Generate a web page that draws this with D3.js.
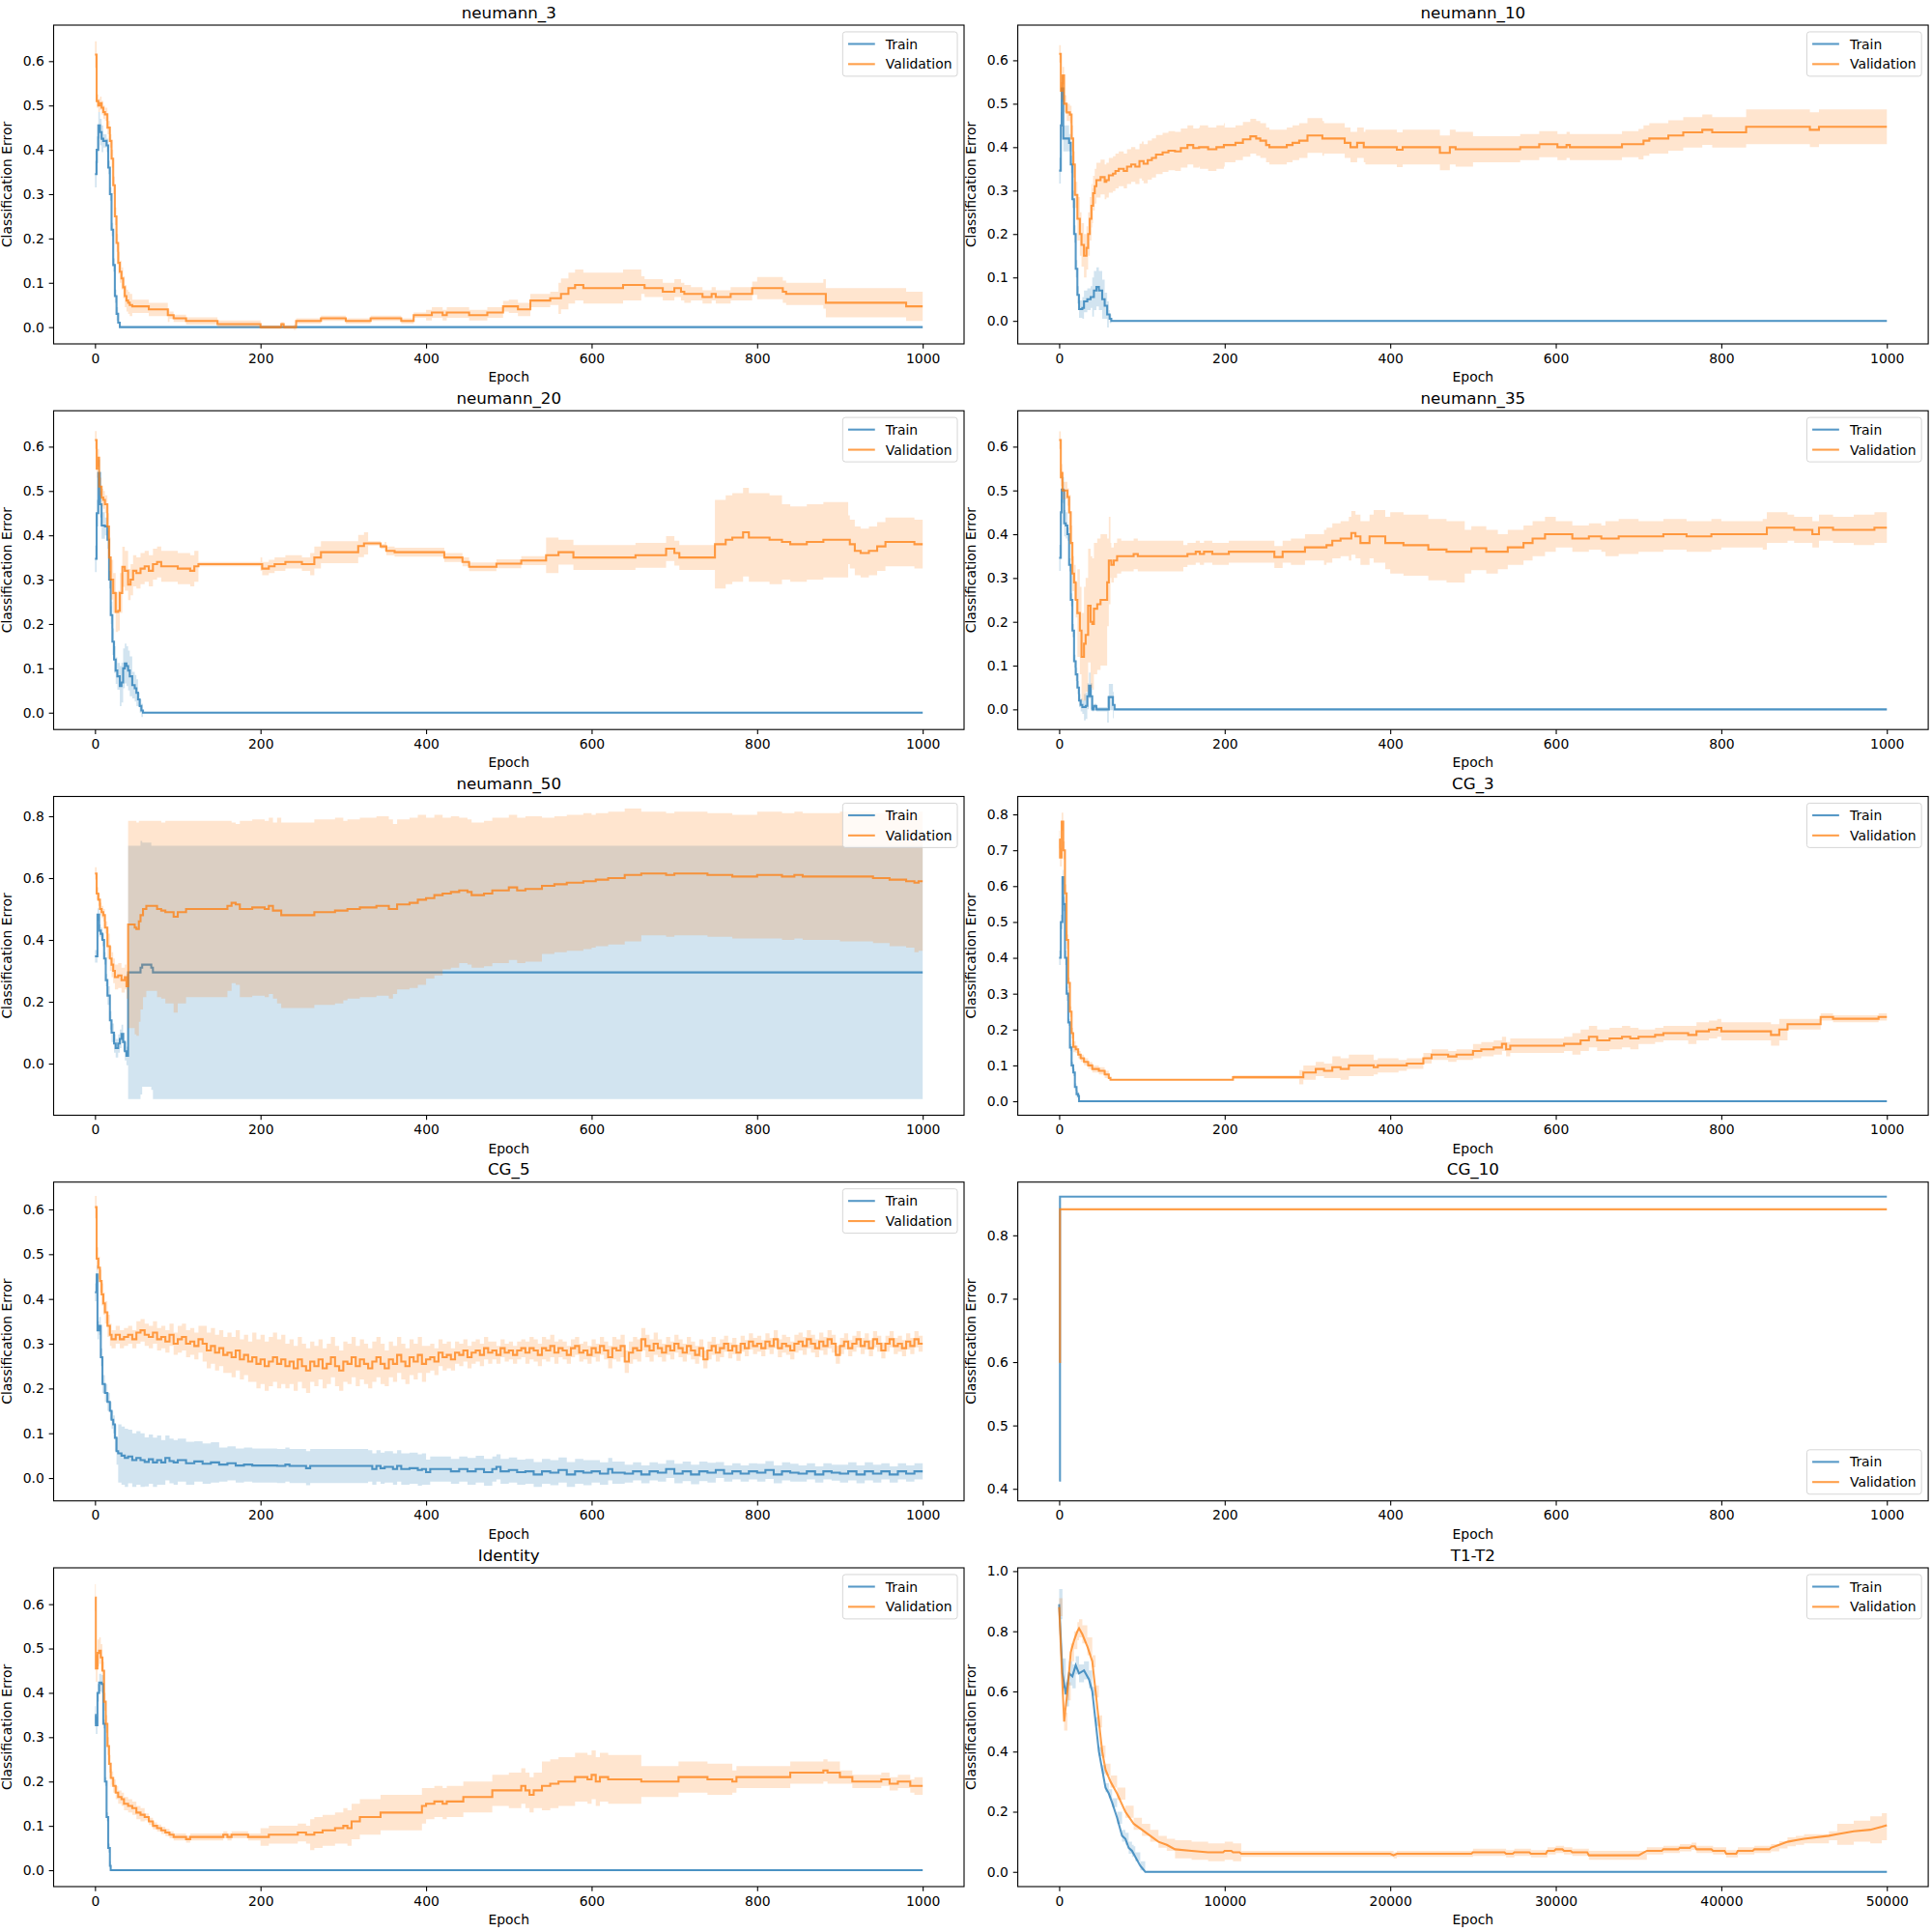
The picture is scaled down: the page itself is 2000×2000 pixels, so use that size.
<!DOCTYPE html>
<html>
<head>
<meta charset="utf-8">
<script src="https://cdn.jsdelivr.net/npm/d3@7"></script>
<style>
body { margin: 0; background: #fff; }
svg { display: block; font-family: "DejaVu Sans", sans-serif; }
</style>
</head>
<body>
<div id="chart"></div>
<script>
// ---- data: [epoch, value] change points ----
var n3Train = [[0,0.345],[2,0.40],[4,0.455],[6,0.44],[8,0.425],[10,0.42],[14,0.41],[16,0.36],[18,0.30],[20,0.22],[22,0.14],[24,0.07],[26,0.03],[28,0.01],[30,0]]
var n3TrainSd = [[0,0.03],[10,0.015],[28,0.002]]
var n3Val = [[0,0.615],[2,0.51],[4,0.50],[6,0.505],[8,0.495],[10,0.485],[12,0.48],[15,0.45],[18,0.42],[20,0.38],[22,0.32],[24,0.25],[26,0.19],[28,0.145],[30,0.125],[32,0.11],[34,0.09],[36,0.07],[38,0.06],[40,0.055],[42,0.05],[45,0.047],[65,0.04],[88,0.027],[95,0.02],[110,0.014],[148,0.007],[200,0.0],[225,0.007],[228,0.0],[243,0.014],[273,0.02],[303,0.014],[333,0.02],[370,0.014],[385,0.027],[407,0.033],[420,0.027],[425,0.033],[452,0.027],[474,0.033],[493,0.047],[511,0.04],[526,0.06],[550,0.065],[563,0.075],[572,0.088],[580,0.095],[590,0.088],[638,0.095],[664,0.088],[686,0.08],[700,0.088],[708,0.08],[712,0.075],[734,0.068],[745,0.075],[750,0.068],[768,0.075],[794,0.088],[831,0.08],[835,0.075],[883,0.055],[980,0.047]]
var n3ValSd = [[0,0.03],[2,0.015],[20,0.02],[28,0.025],[45,0.015],[90,0.008],[200,0.004],[240,0.006],[400,0.012],[500,0.015],[560,0.035],[660,0.02],[720,0.015],[800,0.025],[880,0.033]]

var n10Train = [[0,0.346],[2,0.45],[3,0.535],[5,0.42],[8,0.42],[12,0.41],[14,0.36],[16,0.28],[18,0.20],[20,0.12],[22,0.06],[24,0.027],[28,0.03],[30,0.045],[34,0.05],[38,0.055],[42,0.07],[45,0.078],[48,0.07],[52,0.05],[55,0.035],[58,0.015],[61,0.005],[63,0]]
var n10TrainSd = [[0,0.03],[12,0.02],[28,0.025],[40,0.045],[55,0.03],[60,0.01],[63,0.002]]
var n10Val = [[0,0.615],[2,0.53],[4,0.565],[6,0.50],[9,0.48],[13,0.475],[15,0.42],[17,0.36],[19,0.29],[22,0.235],[25,0.20],[27,0.175],[30,0.15],[33,0.168],[35,0.20],[37,0.235],[39,0.265],[41,0.294],[43,0.31],[45,0.324],[50,0.331],[55,0.32],[57,0.324],[60,0.335],[65,0.339],[68,0.345],[72,0.35],[78,0.345],[82,0.355],[87,0.36],[92,0.355],[97,0.368],[102,0.362],[107,0.37],[112,0.375],[117,0.383],[125,0.388],[132,0.392],[140,0.39],[147,0.398],[155,0.405],[162,0.398],[169,0.40],[180,0.395],[190,0.40],[199,0.405],[213,0.41],[222,0.418],[231,0.425],[238,0.42],[243,0.415],[250,0.405],[254,0.40],[275,0.405],[282,0.41],[290,0.415],[300,0.427],[318,0.42],[337,0.42],[345,0.41],[352,0.40],[360,0.41],[368,0.40],[408,0.394],[415,0.40],[460,0.387],[472,0.40],[479,0.395],[557,0.40],[580,0.407],[602,0.40],[613,0.405],[617,0.40],[680,0.407],[706,0.415],[713,0.42],[736,0.427],[754,0.434],[777,0.44],[789,0.434],[830,0.447],[907,0.44],[918,0.447]]
var n10ValSd = [[0,0.02],[15,0.03],[22,0.05],[40,0.04],[100,0.045],[170,0.05],[200,0.04],[320,0.035],[370,0.04],[500,0.03],[700,0.035],[830,0.04]]

var n20Train = [[0,0.347],[2,0.45],[4,0.541],[6,0.47],[8,0.422],[12,0.42],[15,0.39],[17,0.30],[19,0.22],[21,0.16],[23,0.12],[25,0.095],[27,0.082],[30,0.06],[32,0.068],[34,0.10],[36,0.111],[38,0.105],[40,0.095],[42,0.082],[45,0.062],[48,0.055],[50,0.045],[52,0.03],[54,0.015],[56,0.005],[58,0]]
var n20TrainSd = [[0,0.03],[12,0.02],[20,0.03],[30,0.045],[45,0.03],[52,0.015],[58,0.002]]
var n20Val = [[0,0.615],[2,0.55],[3,0.575],[5,0.51],[8,0.485],[10,0.48],[12,0.47],[15,0.42],[17,0.35],[19,0.30],[22,0.27],[25,0.227],[28,0.23],[30,0.27],[33,0.329],[36,0.32],[40,0.289],[43,0.30],[46,0.32],[50,0.315],[55,0.325],[60,0.33],[65,0.32],[70,0.335],[75,0.34],[80,0.33],[100,0.325],[115,0.32],[120,0.33],[125,0.335],[202,0.325],[210,0.33],[217,0.335],[230,0.34],[250,0.335],[265,0.35],[273,0.362],[318,0.376],[325,0.382],[345,0.375],[352,0.365],[362,0.362],[422,0.35],[444,0.34],[452,0.329],[485,0.336],[515,0.343],[545,0.355],[560,0.362],[578,0.35],[653,0.355],[690,0.37],[700,0.36],[706,0.35],[743,0.35],[749,0.38],[762,0.39],[770,0.395],[783,0.407],[790,0.395],[815,0.39],[830,0.385],[840,0.38],[860,0.385],[880,0.39],[905,0.39],[912,0.38],[918,0.365],[925,0.36],[935,0.365],[945,0.375],[955,0.385],[990,0.38]]
var n20ValSd = [[0,0.02],[15,0.03],[18,0.045],[40,0.035],[125,0.005],[200,0.015],[260,0.025],[330,0.005],[350,0.01],[545,0.04],[560,0.028],[749,0.1],[830,0.085],[910,0.055]]

var n35Train = [[0,0.346],[2,0.45],[3,0.502],[5,0.50],[6,0.425],[8,0.42],[10,0.40],[12,0.33],[14,0.25],[16,0.18],[18,0.11],[20,0.08],[22,0.05],[24,0.02],[26,0.01],[28,0.005],[32,0.008],[34,0.03],[36,0.054],[38,0.03],[40,0.0],[42,0.008],[45,0],[58,0.0],[60,0.028],[63,0.028],[65,0.01],[67,0]]
var n35TrainSd = [[0,0.03],[10,0.015],[30,0.03],[40,0.005],[58,0.03],[66,0.002]]
var n35Val = [[0,0.615],[2,0.53],[3,0.54],[4,0.50],[8,0.50],[10,0.485],[12,0.45],[14,0.38],[16,0.31],[18,0.29],[20,0.25],[22,0.22],[25,0.18],[27,0.12],[30,0.15],[32,0.17],[35,0.237],[38,0.20],[40,0.195],[42,0.23],[46,0.24],[50,0.25],[55,0.25],[58,0.29],[60,0.34],[63,0.33],[66,0.34],[70,0.35],[90,0.355],[95,0.35],[155,0.355],[165,0.36],[170,0.355],[175,0.36],[185,0.355],[205,0.36],[260,0.348],[270,0.36],[297,0.37],[323,0.375],[330,0.385],[340,0.39],[353,0.403],[358,0.395],[364,0.38],[375,0.395],[394,0.38],[416,0.375],[446,0.365],[468,0.36],[498,0.368],[516,0.36],[542,0.37],[561,0.38],[572,0.39],[587,0.40],[620,0.39],[640,0.395],[655,0.39],[676,0.395],[730,0.40],[758,0.395],[788,0.40],[855,0.415],[888,0.41],[910,0.40],[918,0.415],[935,0.41],[985,0.415]]
var n35ValSd = [[0,0.02],[12,0.04],[22,0.1],[30,0.13],[38,0.15],[58,0.1],[62,0.04],[75,0.035],[150,0.025],[280,0.03],[320,0.04],[350,0.05],[380,0.06],[400,0.07],[490,0.05],[530,0.04],[600,0.03],[660,0.04],[700,0.035],[800,0.03],[850,0.035],[880,0.03],[960,0.035]]

var n50Train = [[0,0.347],[3,0.482],[5,0.43],[7,0.42],[9,0.40],[11,0.34],[13,0.27],[15,0.22],[18,0.14],[20,0.10],[23,0.065],[25,0.05],[28,0.065],[30,0.08],[32,0.096],[34,0.07],[36,0.04],[38,0.025],[40,0.295],[55,0.31],[57,0.32],[68,0.31],[70,0.295]]
var n50TrainSd = [[0,0.02],[15,0.03],[40,0.41],[57,0.395],[70,0.41]]
var n50Val = [[0,0.615],[2,0.55],[4,0.53],[6,0.50],[8,0.49],[10,0.48],[12,0.44],[15,0.38],[18,0.34],[20,0.32],[22,0.30],[24,0.28],[28,0.285],[32,0.27],[36,0.28],[38,0.25],[40,0.45],[45,0.45],[48,0.44],[50,0.435],[53,0.46],[55,0.48],[58,0.50],[62,0.51],[70,0.51],[75,0.50],[80,0.495],[85,0.49],[95,0.475],[100,0.49],[110,0.50],[160,0.51],[165,0.52],[170,0.515],[175,0.50],[190,0.505],[205,0.50],[210,0.51],[215,0.495],[225,0.48],[265,0.49],[290,0.495],[305,0.50],[320,0.505],[340,0.51],[355,0.50],[365,0.515],[380,0.52],[390,0.53],[400,0.535],[410,0.545],[420,0.55],[430,0.555],[440,0.56],[450,0.555],[455,0.545],[470,0.55],[480,0.56],[500,0.57],[510,0.56],[520,0.565],[540,0.575],[555,0.58],[570,0.585],[590,0.59],[605,0.595],[620,0.60],[640,0.61],[660,0.615],[690,0.61],[700,0.615],[740,0.61],[770,0.605],[800,0.61],[830,0.605],[845,0.61],[855,0.605],[940,0.60],[960,0.595],[980,0.59],[990,0.585],[995,0.59]]
var n50ValSd = [[0,0.02],[15,0.04],[40,0.335],[48,0.345],[53,0.325],[55,0.305],[58,0.285],[62,0.275],[75,0.285],[85,0.295],[95,0.31],[100,0.295],[110,0.285],[160,0.275],[165,0.26],[175,0.285],[220,0.3],[300,0.29],[360,0.275],[400,0.26],[420,0.245],[440,0.235],[500,0.235],[540,0.22],[600,0.215],[660,0.2],[800,0.205],[900,0.21],[960,0.215],[990,0.225]]

var cg3Train = [[0,0.40],[2,0.50],[4,0.625],[5,0.55],[7,0.40],[9,0.30],[11,0.22],[13,0.15],[15,0.10],[17,0.08],[19,0.04],[21,0.02],[23,0.015],[24,0]]
var cg3TrainSd = [[0,0.02],[10,0.01],[24,0.002]]
var cg3Val = [[0,0.73],[1,0.68],[3,0.78],[5,0.70],[7,0.58],[9,0.45],[11,0.33],[13,0.25],[15,0.19],[17,0.152],[20,0.145],[23,0.13],[26,0.12],[30,0.11],[35,0.10],[40,0.09],[48,0.085],[55,0.075],[60,0.065],[62,0.06],[210,0.067],[290,0.067],[295,0.08],[310,0.09],[320,0.085],[330,0.095],[340,0.09],[350,0.10],[380,0.095],[385,0.10],[420,0.105],[440,0.12],[450,0.13],[470,0.125],[480,0.13],[500,0.14],[510,0.145],[525,0.15],[535,0.16],[540,0.145],[545,0.155],[610,0.16],[630,0.17],[640,0.18],[650,0.17],[665,0.175],[680,0.18],[690,0.175],[700,0.18],[720,0.185],[730,0.19],[760,0.185],[770,0.195],[785,0.20],[795,0.205],[800,0.195],[860,0.185],[870,0.20],[880,0.215],[890,0.215],[920,0.235],[935,0.23],[990,0.235]]
var cg3ValSd = [[0,0.025],[10,0.015],[20,0.01],[60,0.002],[210,0.005],[290,0.02],[330,0.03],[380,0.02],[410,0.015],[500,0.02],[620,0.03],[700,0.02],[760,0.025],[860,0.03],[880,0.015],[920,0.01]]

var cg5Train = [[0,0.415],[2,0.455],[3,0.33],[5,0.34],[7,0.27],[9,0.21],[12,0.19],[15,0.17],[18,0.15],[20,0.13],[22,0.12],[24,0.09],[26,0.06],[28,0.055],[32,0.05],[36,0.045],[40,0.048],[45,0.04],[50,0.045],[55,0.04],[60,0.036],[65,0.042],[70,0.035],[75,0.04],[80,0.035],[85,0.045],[90,0.038],[95,0.035],[100,0.04],[110,0.033],[120,0.037],[130,0.032],[140,0.035],[150,0.03],[160,0.033],[170,0.028],[180,0.03],[190,0.028],[220,0.027],[230,0.03],[235,0.027],[255,0.022],[260,0.027],[335,0.02],[340,0.027],[345,0.022],[350,0.025],[360,0.02],[365,0.027],[370,0.02],[380,0.022],[390,0.018],[395,0.02],[400,0.013],[405,0.02],[430,0.015],[440,0.02],[450,0.015],[460,0.02],[470,0.013],[480,0.02],[485,0.025],[490,0.015],[500,0.018],[510,0.013],[520,0.015],[530,0.008],[540,0.015],[550,0.012],[560,0.018],[570,0.008],[580,0.015],[590,0.012],[600,0.015],[610,0.01],[620,0.02],[625,0.012],[640,0.01],[650,0.015],[660,0.008],[670,0.015],[680,0.012],[690,0.02],[700,0.01],[710,0.015],[720,0.008],[730,0.015],[740,0.012],[750,0.018],[760,0.01],[770,0.015],[780,0.01],[790,0.015],[800,0.012],[810,0.018],[820,0.008],[830,0.015],[840,0.012],[850,0.01],[860,0.015],[870,0.008],[880,0.015],[890,0.012],[900,0.01],[910,0.015],[920,0.008],[930,0.015],[940,0.01],[950,0.015],[960,0.008],[970,0.015],[980,0.01],[990,0.015]]
var cg5TrainSd = [[0,0.02],[24,0.03],[28,0.065],[40,0.06],[60,0.055],[80,0.05],[100,0.048],[120,0.045],[150,0.038],[330,0.035],[400,0.028],[450,0.03],[480,0.028],[600,0.025],[640,0.02],[700,0.022],[750,0.018],[800,0.02],[850,0.018],[900,0.02],[950,0.018]]
var cg5Val = [[0,0.605],[2,0.49],[4,0.47],[6,0.44],[8,0.41],[10,0.39],[12,0.37],[15,0.34],[18,0.32],
  [20,0.31],[25,0.32],[30,0.31],[35,0.315],[40,0.32],[45,0.31],[50,0.325],[55,0.33],[60,0.32],[65,0.315],[70,0.325],[75,0.31],[80,0.315],[85,0.305],[90,0.32],[95,0.30],
  [100,0.31],[105,0.315],[110,0.30],[115,0.305],[120,0.295],[125,0.31],[130,0.30],[135,0.285],[140,0.295],[145,0.28],[150,0.29],[155,0.275],[160,0.28],[165,0.27],[170,0.285],[175,0.265],[180,0.275],[185,0.26],[190,0.27],[195,0.255],
  [200,0.265],[205,0.25],[210,0.26],[215,0.27],[220,0.255],[225,0.265],[230,0.25],[235,0.26],[240,0.245],[245,0.265],[250,0.25],[255,0.24],[260,0.26],[265,0.25],[270,0.265],[275,0.245],[280,0.255],[285,0.27],[290,0.25],[295,0.24],
  [300,0.26],[305,0.255],[310,0.27],[315,0.25],[320,0.265],[325,0.255],[330,0.245],[335,0.26],[340,0.27],[345,0.255],[350,0.245],[355,0.265],[360,0.255],[365,0.275],[370,0.26],[375,0.25],[380,0.27],[385,0.26],[390,0.275],[395,0.255],
  [400,0.265],[405,0.27],[410,0.26],[415,0.28],[420,0.27],[425,0.275],[430,0.265],[435,0.28],[440,0.275],[445,0.285],[450,0.27],[455,0.28],[460,0.285],[465,0.275],[470,0.29],[475,0.28],[480,0.285],[485,0.275],[490,0.29],[495,0.28],
  [500,0.285],[505,0.275],[510,0.285],[515,0.29],[520,0.28],[525,0.29],[530,0.285],[535,0.275],[540,0.29],[545,0.285],[550,0.295],[555,0.28],[560,0.29],[565,0.285],[570,0.275],[575,0.29],[580,0.295],[585,0.28],[590,0.285],[595,0.275],
  [600,0.29],[605,0.28],[610,0.295],[615,0.285],[620,0.27],[625,0.29],[630,0.285],[635,0.295],[640,0.26],[645,0.28],[650,0.29],[655,0.285],[660,0.31],[665,0.295],[670,0.285],[675,0.30],[680,0.29],[685,0.28],[690,0.295],[695,0.285],
  [700,0.30],[705,0.29],[710,0.28],[715,0.295],[720,0.285],[725,0.275],[730,0.29],[735,0.265],[740,0.285],[745,0.295],[750,0.28],[755,0.29],[760,0.30],[765,0.285],[770,0.295],[775,0.28],[780,0.30],[785,0.29],[790,0.305],[795,0.295],
  [800,0.30],[805,0.29],[810,0.305],[815,0.295],[820,0.31],[825,0.29],[830,0.30],[835,0.295],[840,0.285],[845,0.30],[850,0.305],[855,0.295],[860,0.31],[865,0.30],[870,0.29],[875,0.305],[880,0.295],[885,0.31],[890,0.30],[895,0.275],
  [900,0.295],[905,0.305],[910,0.29],[915,0.30],[920,0.31],[925,0.295],[930,0.305],[935,0.29],[940,0.31],[945,0.30],[950,0.285],[955,0.30],[960,0.31],[965,0.295],[970,0.30],[975,0.29],[980,0.305],[985,0.295],[990,0.31],[995,0.30]]
var cg5ValSd = [[0,0.025],[20,0.02],[50,0.025],[100,0.03],[130,0.04],[160,0.045],[190,0.055],[230,0.05],[260,0.045],[300,0.045],[350,0.04],[400,0.03],[430,0.025],[480,0.02],[520,0.025],[560,0.02],[620,0.025],[680,0.02],[760,0.018],[820,0.02],[900,0.018]]

var cg10Train = [[0,0.413],[1,0.861]]
var cg10TrainSd = [[0,0]]
var cg10Val = [[0,0.60],[1,0.841]]
var cg10ValSd = [[0,0]]

var idTrain = [[0,0.35],[1,0.327],[3,0.40],[5,0.423],[8,0.42],[10,0.33],[12,0.20],[14,0.12],[16,0.05],[18,0.01],[19,0]]
var idTrainSd = [[0,0.02],[10,0.01],[19,0.002]]
var idVal = [[0,0.615],[1,0.455],[3,0.49],[5,0.495],[7,0.48],[9,0.45],[11,0.38],[13,0.33],[15,0.28],[17,0.24],[19,0.208],[22,0.19],[25,0.175],[28,0.165],[32,0.16],[35,0.15],[40,0.145],[45,0.14],[50,0.13],[55,0.125],[60,0.12],[65,0.11],[70,0.10],[75,0.095],[80,0.09],[85,0.085],[90,0.08],[95,0.075],[110,0.07],[115,0.075],[155,0.08],[160,0.075],[165,0.08],[185,0.075],[210,0.08],[245,0.085],[255,0.08],[265,0.085],[275,0.09],[290,0.095],[300,0.10],[305,0.095],[310,0.11],[320,0.12],[345,0.13],[395,0.145],[400,0.15],[410,0.155],[420,0.15],[425,0.155],[445,0.165],[480,0.18],[515,0.19],[520,0.18],[525,0.17],[530,0.18],[540,0.19],[550,0.195],[560,0.20],[580,0.21],[595,0.205],[600,0.215],[605,0.20],[610,0.21],[620,0.205],[660,0.20],[705,0.21],[740,0.205],[770,0.20],[775,0.21],[840,0.22],[880,0.225],[885,0.22],[900,0.21],[915,0.20],[950,0.205],[960,0.195],[970,0.20],[985,0.19]]
var idValSd = [[0,0.03],[10,0.02],[20,0.015],[60,0.008],[200,0.02],[260,0.035],[300,0.04],[400,0.035],[500,0.04],[540,0.055],[660,0.035],[770,0.025],[900,0.015],[990,0.02]]

var t12Train = [[0,0.89],[200,0.66],[400,0.59],[600,0.66],[800,0.65],[1000,0.687],[1200,0.66],[1500,0.67],[1800,0.64],[2000,0.60],[2200,0.50],[2400,0.40],[2600,0.34],[2800,0.28],[3000,0.26],[3200,0.23],[3500,0.18],[3800,0.12],[4000,0.11],[4200,0.08],[4400,0.07],[4600,0.05],[4900,0.02],[5200,0],[50000,0]]
var t12TrainSd = [[0,0.05],[400,0.04],[1000,0.03],[2000,0.015],[3500,0.02],[4500,0.015],[5200,0.003]]
var t12Val = [[0,0.88],[200,0.62],[300,0.50],[500,0.60],[700,0.73],[900,0.77],[1100,0.80],[1200,0.81],[1400,0.79],[1700,0.75],[2000,0.70],[2200,0.60],[2400,0.50],[2600,0.40],[2800,0.34],[3100,0.30],[3500,0.26],[4000,0.20],[4500,0.16],[5000,0.14],[5500,0.12],[6000,0.10],[6500,0.09],[7000,0.075],[8000,0.07],[9000,0.065],[9900,0.065],[10000,0.07],[10400,0.07],[10500,0.065],[10900,0.065],[11000,0.06],[20000,0.06],[20200,0.055],[20400,0.06],[24900,0.06],[25000,0.065],[26900,0.065],[27000,0.06],[27400,0.06],[27500,0.065],[28400,0.065],[28500,0.06],[29400,0.06],[29500,0.07],[29900,0.07],[30000,0.075],[30400,0.075],[30500,0.07],[30900,0.07],[31000,0.065],[31900,0.065],[32000,0.055],[35000,0.055],[35500,0.07],[36400,0.07],[36500,0.075],[37400,0.075],[37500,0.08],[38100,0.08],[38200,0.085],[38400,0.085],[38500,0.075],[39400,0.075],[39500,0.07],[40200,0.07],[40300,0.06],[40900,0.06],[41000,0.07],[41900,0.07],[42000,0.075],[42900,0.075],[43000,0.08],[43500,0.09],[44000,0.10],[44500,0.105],[45000,0.11],[46500,0.12],[47000,0.125],[48000,0.135],[49000,0.14],[49700,0.15],[50000,0.155]]
var t12ValSd = [[0,0.03],[2000,0.02],[7000,0.03],[11000,0.01],[25000,0.012],[32000,0.015],[35500,0.012],[44000,0.015],[47000,0.035],[49000,0.045]]

// ---- per panel tables ----
var titles = ['neumann_3','neumann_10','neumann_20','neumann_35','neumann_50','CG_3','CG_5','CG_10','Identity','T1-T2']
var trainMeans = [n3Train,n10Train,n20Train,n35Train,n50Train,cg3Train,cg5Train,cg10Train,idTrain,t12Train]
var trainSds = [n3TrainSd,n10TrainSd,n20TrainSd,n35TrainSd,n50TrainSd,cg3TrainSd,cg5TrainSd,cg10TrainSd,idTrainSd,t12TrainSd]
var valMeans = [n3Val,n10Val,n20Val,n35Val,n50Val,cg3Val,cg5Val,cg10Val,idVal,t12Val]
var valSds = [n3ValSd,n10ValSd,n20ValSd,n35ValSd,n50ValSd,cg3ValSd,cg5ValSd,cg10ValSd,idValSd,t12ValSd]
var epochMax = [1000,1000,1000,1000,1000,1000,1000,1000,1000,50000]
var curveKind = ['step','step','step','step','step','step','step','step','step','linear']
var xTicksShort = [0,200,400,600,800,1000]
var xTicksLong = [0,10000,20000,30000,40000,50000]
var yLimits = [[-0.0378,0.6813],[-0.053,0.681],[-0.038,0.681],[-0.046,0.682],[-0.167,0.864],
               [-0.039,0.850],[-0.051,0.661],[0.381,0.884],[-0.037,0.682],[-0.049,1.011]]
var yTicksA = [0,0.1,0.2,0.3,0.4,0.5,0.6]
var yTicks = [yTicksA,yTicksA,yTicksA,yTicksA,[0,0.2,0.4,0.6,0.8],
              [0,0.1,0.2,0.3,0.4,0.5,0.6,0.7,0.8],yTicksA,[0.4,0.5,0.6,0.7,0.8],yTicksA,[0,0.2,0.4,0.6,0.8,1.0]]
var legendLoc = ['upper','upper','upper','upper','upper','upper','upper','lower','upper','upper']
var seriesNames = ['Train','Validation']

var colors = { train: '#1f77b4', val: '#ff7f0e' }

// ---- layout ----
var axLeft = [55.5, 1053.6]
var axTop = [26, 425.2, 824.5, 1223.7, 1623]
var axW = 942.5, axH = 330
var fs = 13.9

var svg = d3.select('#chart').append('svg')
  .attr('width', 2000).attr('height', 2000)
svg.append('rect').attr('width', 2000).attr('height', 2000).attr('fill', '#fff')

function stepAt(arr, x) {
  var v = arr[0][1]
  for (var i = 0; i < arr.length; i++) {
    if (arr[i][0] <= x) v = arr[i][1]
    else break
  }
  return v
}

function drawSeries(g, x, y, mean, sd, xmax, color, kind) {
  var curve = kind === 'linear' ? d3.curveLinear : d3.curveStepAfter
  var pts = mean.slice()
  if (pts[pts.length-1][0] < xmax) pts.push([xmax, pts[pts.length-1][1]])
  var xs = {}
  pts.forEach(d => { xs[d[0]] = 1 })
  sd.forEach(d => { if (d[0] <= xmax) xs[d[0]] = 1 })
  var band = Object.keys(xs).map(Number).sort((a,b) => a-b).map(e => {
    var m = stepAt(pts, e), s = stepAt(sd, e)
    return [e, m - s, m + s]
  })
  g.append('path')
    .attr('d', d3.line().curve(curve).x(d => x(d[0])).y(d => y(d[1]))(pts))
    .attr('fill', 'none')
    .attr('stroke', color)
    .attr('stroke-opacity', 0.75)
    .attr('stroke-width', 2.08)
  g.append('path')
    .attr('d', d3.area().curve(d3.curveStepAfter).x(d => x(d[0])).y0(d => y(d[1])).y1(d => y(d[2]))(band))
    .attr('fill', color)
    .attr('fill-opacity', 0.2)
}

function drawLegend(g, left, top, loc) {
  var pad = 5.6, handle = 27.8, gap = 11.1, spacing = 6.95, bpad = 6.95
  var lg = g.append('g')
  var box = lg.append('rect')
  var tw = 0
  var items = seriesNames.map((n, k) => {
    var t = lg.append('text').text(n).attr('font-size', fs).attr('fill', '#000')
    tw = Math.max(tw, t.node().getComputedTextLength())
    return t
  })
  var w = pad + handle + gap + tw + pad
  var h = pad*2 + fs*2 + spacing
  var bx = left + axW - bpad - w
  var by = loc === 'upper' ? top + bpad : top + axH - bpad - h
  box.attr('x', bx).attr('y', by).attr('width', w).attr('height', h)
    .attr('rx', 2.8).attr('fill', '#fff').attr('fill-opacity', 0.8)
    .attr('stroke', '#cccccc').attr('stroke-opacity', 0.8).attr('stroke-width', 1)
  var cols = [colors.train, colors.val]
  items.forEach((t, k) => {
    var cy = by + pad + fs/2 + k*(fs + spacing)
    lg.append('line')
      .attr('x1', bx + pad).attr('x2', bx + pad + handle)
      .attr('y1', cy).attr('y2', cy)
      .attr('stroke', cols[k]).attr('stroke-opacity', 0.75).attr('stroke-width', 2.08)
    t.attr('x', bx + pad + handle + gap).attr('y', cy).attr('dy', '0.36em')
  })
}

function drawPanel(i) {
  var col = i % 2, row = Math.floor(i / 2)
  var left = axLeft[col], top = axTop[row]
  var xmax = epochMax[i]
  var x = d3.scaleLinear().domain([-0.05*xmax, 1.05*xmax]).range([left, left + axW])
  var y = d3.scaleLinear().domain(yLimits[i]).range([top + axH, top])
  var g = svg.append('g').attr('class', 'panel')

  g.append('clipPath').attr('id', 'clip' + i).append('rect')
    .attr('x', left).attr('y', top).attr('width', axW).attr('height', axH)
  var plot = g.append('g').attr('clip-path', 'url(#clip' + i + ')')
  drawSeries(plot, x, y, trainMeans[i], trainSds[i], xmax, colors.train, curveKind[i])
  drawSeries(plot, x, y, valMeans[i], valSds[i], xmax, colors.val, curveKind[i])

  var xa = g.append('g').attr('transform', 'translate(0,' + (top + axH) + ')')
    .call(d3.axisBottom(x).tickValues(xmax > 1000 ? xTicksLong : xTicksShort)
      .tickFormat(d3.format('d')).tickSize(4.86).tickPadding(4.86).tickSizeOuter(0))
  var ya = g.append('g').attr('transform', 'translate(' + left + ',0)')
    .call(d3.axisLeft(y).tickValues(yTicks[i])
      .tickFormat(d3.format('.1f')).tickSize(4.86).tickPadding(4.86).tickSizeOuter(0))
  ;[xa, ya].forEach(a => {
    a.select('.domain').remove()
    a.attr('font-family', '"DejaVu Sans", sans-serif').attr('font-size', fs)
    a.selectAll('line').attr('stroke', '#000').attr('stroke-width', 1.1)
    a.selectAll('text').attr('fill', '#000')
  })

  g.append('rect')
    .attr('x', left).attr('y', top).attr('width', axW).attr('height', axH)
    .attr('fill', 'none').attr('stroke', '#000').attr('stroke-width', 1.1)

  g.append('text').text(titles[i])
    .attr('x', left + axW/2).attr('y', top - 7.5)
    .attr('text-anchor', 'middle').attr('font-size', 16.7).attr('fill', '#000')
  g.append('text').text('Epoch')
    .attr('x', left + axW/2).attr('y', top + axH + 39)
    .attr('text-anchor', 'middle').attr('font-size', fs).attr('fill', '#000')
  g.append('text').text('Classification Error')
    .attr('transform', 'translate(' + (left - 43.5) + ',' + (top + axH/2) + ') rotate(-90)')
    .attr('text-anchor', 'middle').attr('font-size', fs).attr('fill', '#000')

  drawLegend(g, left, top, legendLoc[i])
}

titles.forEach((t, i) => drawPanel(i))
</script>
</body>
</html>
